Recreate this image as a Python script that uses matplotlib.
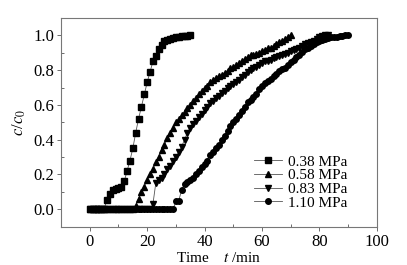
import matplotlib.pyplot as plt
import numpy as np
from matplotlib.ticker import MultipleLocator

plt.rcParams['font.family'] = ['Liberation Serif', 'DejaVu Serif']
plt.rcParams['mathtext.fontset'] = 'stix'

# 0.38 MPa
t1 = list(range(0, 36))
c1 = [0, 0, 0, 0, 0, 0, 0.055, 0.09, 0.11, 0.115, 0.12, 0.125, 0.16, 0.22, 0.28, 0.35,
      0.44, 0.52, 0.59, 0.66, 0.73, 0.79, 0.85, 0.88, 0.92, 0.945, 0.97, 0.976, 0.981,
      0.985, 0.989, 0.992, 0.995, 0.997, 0.999, 1.0]

# 0.58 MPa
t2 = list(range(0, 71))
c2 = [0] * 16 + [0.02, 0.06, 0.10, 0.13, 0.17, 0.20, 0.23, 0.27, 0.30, 0.34, 0.37, 0.41,
      0.44, 0.47, 0.50, 0.52, 0.54, 0.56, 0.58, 0.60, 0.62, 0.64, 0.66, 0.68, 0.70, 0.71,
      0.73, 0.745, 0.755, 0.765, 0.775, 0.785, 0.795, 0.81, 0.82, 0.83, 0.84, 0.85, 0.865,
      0.875, 0.885, 0.89, 0.895, 0.90, 0.91, 0.915, 0.925, 0.93, 0.94, 0.95, 0.96, 0.97,
      0.98, 0.99, 1.0]

# 0.83 MPa
t3 = list(range(0, 84))
c3 = [0] * 22 + [0.03, 0.15, 0.17, 0.18, 0.20, 0.23, 0.25, 0.28, 0.30, 0.33, 0.36, 0.40,
      0.44, 0.47, 0.49, 0.51, 0.53, 0.55, 0.57, 0.59, 0.61, 0.62, 0.64, 0.65, 0.67, 0.68,
      0.70, 0.71, 0.72, 0.73, 0.745, 0.76, 0.775, 0.79, 0.80, 0.81, 0.82, 0.83, 0.84, 0.85,
      0.855, 0.86, 0.87, 0.875, 0.88, 0.89, 0.895, 0.90, 0.91, 0.915, 0.92, 0.93, 0.94,
      0.95, 0.955, 0.96, 0.97, 0.98, 0.99, 0.995, 1.0, 1.0]

# 1.10 MPa
t4 = list(range(0, 91))
c4 = [0] * 30 + [0.045, 0.05, 0.11, 0.145, 0.155, 0.17, 0.18, 0.20, 0.22, 0.24, 0.26, 0.28,
      0.31, 0.33, 0.35, 0.37, 0.40, 0.42, 0.45, 0.48, 0.50, 0.52, 0.54, 0.565, 0.59, 0.615,
      0.63, 0.645, 0.66, 0.69, 0.71, 0.725, 0.74, 0.75, 0.765, 0.78, 0.795, 0.805, 0.815,
      0.83, 0.845, 0.86, 0.875, 0.89, 0.905, 0.92, 0.93, 0.94, 0.95, 0.96, 0.97, 0.975,
      0.98, 0.985, 0.99, 0.99, 0.993, 0.996, 0.998, 1.0, 1.0]

labels = ['0.38 MPa', '0.58 MPa', '0.83 MPa', '1.10 MPa']
markers = ['s', '^', 'v', 'o']

fig = plt.figure(figsize=(4.07, 2.65), dpi=100)
ax = fig.add_axes([0.15, 0.145, 0.776, 0.787])

for t, c, lab, m in zip([t1, t2, t3, t4], [c1, c2, c3, c4], labels, markers):
    ax.plot(t, c, color='#555555', lw=0.6, marker=m, markersize=4,
            markerfacecolor='black', markeredgecolor='black', label=lab)

ax.set_xlim(-10, 100)
ax.set_ylim(-0.1, 1.1)
ax.xaxis.set_minor_locator(MultipleLocator(10))
ax.yaxis.set_minor_locator(MultipleLocator(0.1))
ax.set_yticks(np.arange(0, 1.01, 0.2))
ax.set_yticklabels(['0.0', '0.2', '0.4', '0.6', '0.8', '1.0'])
ax.set_xticks([0, 20, 40, 60, 80, 100])
ax.tick_params(which='major', direction='out', length=3, width=0.6, labelsize=12,
               color='#555555', pad=2)
ax.tick_params(which='minor', direction='in', length=2.5, width=0.6, color='#555555')
for s in ax.spines.values():
    s.set_color('#777777')
    s.set_linewidth(0.8)

ax.set_xlabel('Time    $t$ /min', fontsize=11)
ax.xaxis.set_label_coords(0.5, -0.115)
ax.xaxis.label.set_va('top')
ax.set_ylabel('$c$/$c_0$', fontsize=12)
ax.yaxis.set_label_coords(-0.105, 0.5)

ax.legend(loc='lower right', bbox_to_anchor=(0.94, 0.03), frameon=False, fontsize=11,
          handlelength=1.8, handletextpad=0.4, labelspacing=0.0, borderpad=0.2)

fig.savefig('out.png', dpi=100)
